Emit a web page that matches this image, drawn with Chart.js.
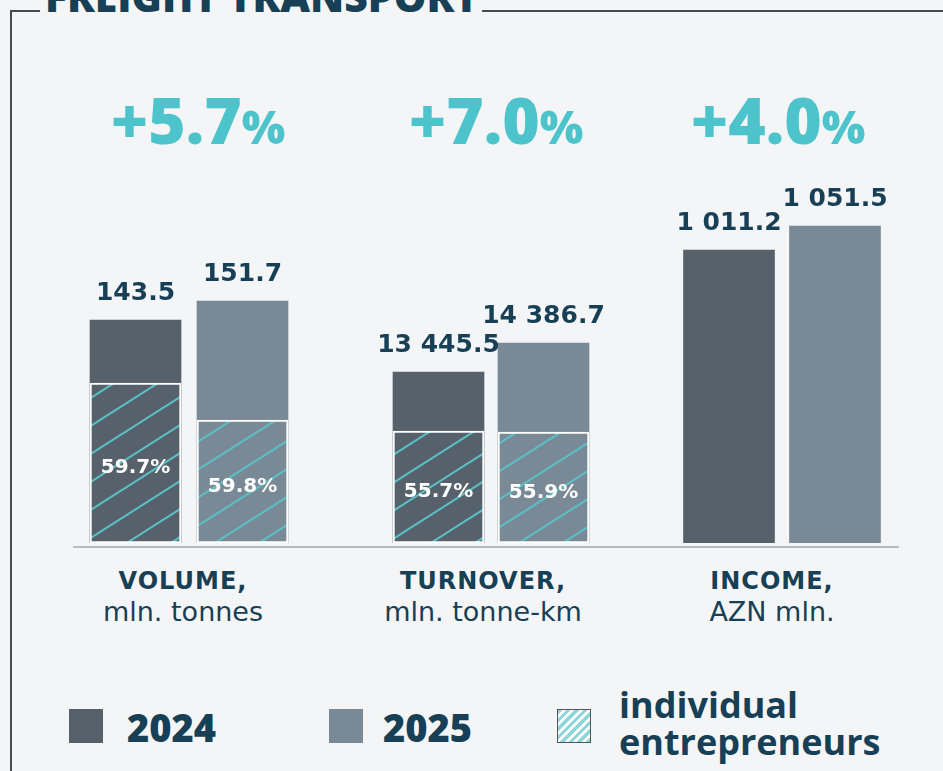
<!DOCTYPE html>
<html>
<head>
<meta charset="utf-8">
<script src="https://cdn.jsdelivr.net/npm/chart.js@4.4.1/dist/chart.umd.min.js"></script>
<style>
  body { margin: 0; width: 943px; height: 771px; overflow: hidden; position: relative;
         background: #f4f5f7; color: #173f55; font-family: "DejaVu Sans", sans-serif; }
  .abs { position: absolute; }
  #frameLeft { left: 10px; top: 10px; width: 2px; height: 770px; background: #4a4a4a; }
  #frameTop { left: 10px; top: 10px; width: 933px; height: 2px; background: #4a4a4a; }
  #title { left: 40px; top: -24px; padding: 0 4px 0 5px; background: #f4f5f7; white-space: nowrap;
           font: 800 41px/41px "Open Sans", sans-serif; color: #173f55; }
  .growth { width: 300px; text-align: center; top: 88px; color: #4dc3cb;
            font: 800 64px/64px "Open Sans", sans-serif; }
  .growth span { font-size: 46px; }
  .cat { width: 300px; text-align: center; top: 566px; }
  .cat b { display: block; font: bold 24px/30px "DejaVu Sans", sans-serif; letter-spacing: 1px; }
  .cat i { display: block; font: normal 27px/31px "DejaVu Sans", sans-serif; font-style: normal; }
  #axisLine { left: 73px; top: 546px; width: 826px; height: 2px; background: #b9bcbf; }
  canvas { position: absolute; top: 0; }
  .sw { width: 34px; height: 34px; }
  .leg { font: 800 38px/40px "Open Sans", sans-serif; color: #173f55; }
  #legIE { left: 619px; top: 686px; font: 700 36px/37px "Open Sans", sans-serif; color: #173f55; }
</style>
</head>
<body>
<div id="frameLeft" class="abs"></div>
<div id="frameTop" class="abs"></div>
<div id="title" class="abs">FREIGHT TRANSPORT</div>
<div id="axisLine" class="abs"></div>

<canvas id="c0" width="354" height="543" style="left:12px"></canvas>
<canvas id="c1" width="350" height="543" style="left:316px"></canvas>
<canvas id="c2" width="352" height="543" style="left:606px"></canvas>

<div class="abs sw" style="left:69px; top:709px; background:#56616b"></div>
<div class="abs leg" style="left:127px; top:707px">2024</div>
<div class="abs sw" style="left:329px; top:709px; background:#798a96"></div>
<div class="abs leg" style="left:383px; top:707px">2025</div>
<div class="abs sw" style="left:557px; top:709px; box-sizing:border-box; border:1px solid #555;
     background:repeating-linear-gradient(135deg, #8fd6db 0 3px, #ffffff 3px 6px)"></div>
<div id="legIE" class="abs">individual<br>entrepreneurs</div>

<script>
const categories = ['VOLUME,', 'TURNOVER,', 'INCOME,'];
const units = ['mln. tonnes', 'mln. tonne-km', 'AZN mln.'];
const years = ['2024', '2025'];
const growth = ['+5.7', '+7.0', '+4.0'];

const volume = [143.5, 151.7];
const turnover = [13445.5, 14386.7];
const income = [1011.2, 1051.5];

// individual entrepreneurs part, as high as it is drawn in the picture
const volumeIE = [116.3, 100.4];
const turnoverIE = [11530, 11498];
const volumeShare = ['59.7%', '59.8%'];
const turnoverShare = ['55.7%', '55.9%'];

// the bars do not start at zero in the picture
const axisMin = [47.3, 7896, 519.2];
const axisMax = [281.7, 25519, 1431];

const groupCenters = [198, 496, 778];
const labelCenters = [183, 483, 772];
const yearColors = ['#56616b', '#798a96'];

function fmt(v) {
    return v.toFixed(1).replace(/\B(?=(\d{3})+(?!\d))/g, ' ');
}

function hatch(bg) {
    const c = document.createElement('canvas');
    c.width = 44; c.height = 28;
    const x = c.getContext('2d');
    x.fillStyle = bg;
    x.fillRect(0, 0, 44, 28);
    x.strokeStyle = '#5bbfc6';
    x.lineWidth = 2;
    for (let k = -1; k <= 1; k++) {
        x.beginPath();
        x.moveTo(-44, 56 + k * 28);
        x.lineTo(88, -28 + k * 28);
        x.stroke();
    }
    return x.createPattern(c, 'repeat');
}

const barLabels = {
    id: 'barLabels',
    afterDatasetsDraw(chart) {
        const ctx = chart.ctx;
        const tot = chart.getDatasetMeta(0);
        ctx.save();
        ctx.textAlign = 'center';
        ctx.textBaseline = 'alphabetic';
        ctx.fillStyle = '#173f55';
        ctx.font = 'bold 25px "DejaVu Sans"';
        tot.data.forEach((bar, i) => {
            ctx.fillText(fmt(chart.data.datasets[0].data[i]), bar.x, bar.y - 20);
        });
        if (chart.data.datasets.length > 1) {
            const ie = chart.getDatasetMeta(1);
            const shares = chart.data.datasets[1].shares;
            ctx.fillStyle = '#ffffff';
            ctx.font = 'bold 20px "DejaVu Sans"';
            ctx.textBaseline = 'middle';
            ie.data.forEach((bar, i) => {
                ctx.fillText(shares[i], bar.x, (bar.y + bar.base) / 2 + 5);
            });
        }
        ctx.restore();
    }
};

function makeChart(id, i, totals, ie, shares) {
    const datasets = [{
        label: categories[i],
        data: totals,
        backgroundColor: yearColors,
        borderWidth: 0,
        base: axisMin[i],
        order: 2
    }];
    if (ie) {
        datasets.push({
            label: 'individual entrepreneurs',
            data: ie,
            shares: shares,
            backgroundColor: yearColors.map(hatch),
            borderColor: '#ffffff',
            borderWidth: 2,
            borderSkipped: false,
            base: axisMin[i],
            order: 1
        });
    }
    new Chart(document.getElementById(id), {
        type: 'bar',
        data: { labels: years, datasets: datasets },
        options: {
            responsive: false,
            animation: false,
            barThickness: 91,
            layout: { padding: { left: 70, right: 70, top: 0, bottom: 0 } },
            plugins: { legend: { display: false }, tooltip: { enabled: false } },
            scales: {
                x: { display: false, stacked: true },
                y: { display: false, min: axisMin[i], max: axisMax[i] }
            }
        },
        plugins: [barLabels]
    });
}

makeChart('c0', 0, volume, volumeIE, volumeShare);
makeChart('c1', 1, turnover, turnoverIE, turnoverShare);
makeChart('c2', 2, income, null, null);

// growth figures and category names
growth.forEach((g, i) => {
    const d = document.createElement('div');
    d.className = 'abs growth';
    d.style.left = (groupCenters[i] - 150) + 'px';
    d.innerHTML = g + '<span>%</span>';
    document.body.appendChild(d);

    const c = document.createElement('div');
    c.className = 'abs cat';
    c.style.left = (labelCenters[i] - 150) + 'px';
    c.innerHTML = '<b>' + categories[i] + '</b><i>' + units[i] + '</i>';
    document.body.appendChild(c);
});
</script>
</body>
</html>
